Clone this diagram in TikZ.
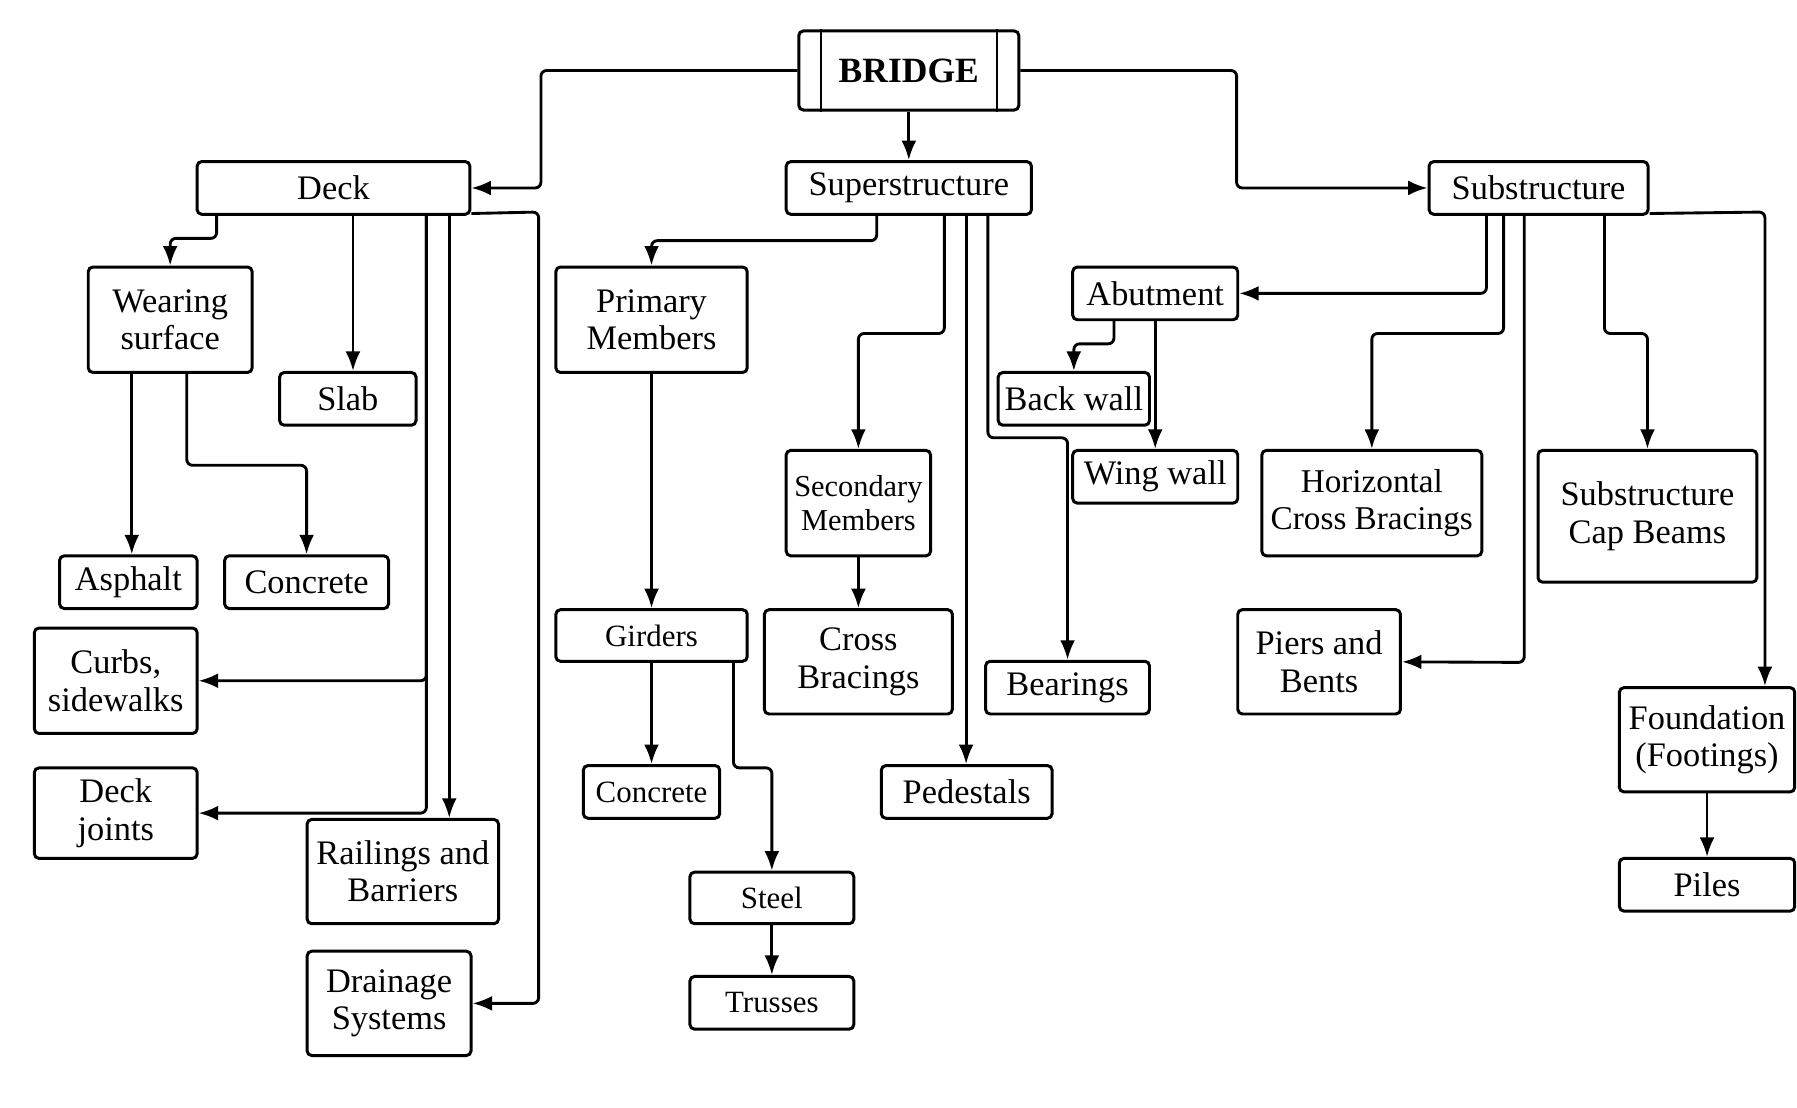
\documentclass[tikz,border=0pt]{standalone}
\usepackage{fontspec}
\setmainfont{Liberation Serif}
\usetikzlibrary{arrows.meta}
\begin{document}
\begin{tikzpicture}[x=1pt,y=-1pt,
  box/.style={draw, line width=2.6pt, rounded corners=4pt, inner sep=0pt, align=center,
    font=\fontsize{30}{32.5}\selectfont},
  arr/.style={line width=2.5pt, rounded corners=5pt, -{Latex[length=17pt,width=13pt]}},
  ln/.style={line width=2.5pt}]
\useasboundingbox (0,0) rectangle (1568,966);
% top
\node[box, minimum width=192pt, minimum height=69pt, font=\fontsize{31}{34}\selectfont\bfseries] (bridge) at (793,61.5) {BRIDGE};
\draw[line width=1.8pt] (716,0 |- bridge.north) -- (716,0 |- bridge.south);
\draw[line width=1.8pt] (870,0 |- bridge.north) -- (870,0 |- bridge.south);
\node[box, minimum width=238pt, minimum height=46pt] (deck) at (291,164) {Deck};
\node[box, minimum width=214pt, minimum height=46pt] (sup) at (793,164) {Superstructure};
\node[box, minimum width=191pt, minimum height=46pt] (sub) at (1342.5,164) {Substructure};
% deck children
\node[box, minimum width=143pt, minimum height=92pt] (ws) at (148.5,279) {Wearing\\surface};
\node[box, minimum width=119pt, minimum height=46pt] (slab) at (303.5,348) {Slab};
\node[box, minimum width=120pt, minimum height=46pt] (asph) at (112,508) {Asphalt};
\node[box, minimum width=143pt, minimum height=46pt] (conca) at (267.5,508) {Concrete};
\node[box, minimum width=142pt, minimum height=92pt] (curbs) at (101,594) {Curbs,\\sidewalks};
\node[box, minimum width=142pt, minimum height=79pt] (joints) at (101,709.5) {Deck\\joints};
\node[box, minimum width=167pt, minimum height=91pt] (rail) at (351.5,760.5) {Railings and\\Barriers};
\node[box, minimum width=143pt, minimum height=91pt] (drain) at (339.5,875.5) {Drainage\\Systems};
% superstructure children
\node[box, minimum width=167pt, minimum height=92pt] (prim) at (568.5,279) {Primary\\Members};
\node[box, minimum width=167pt, minimum height=45pt, font=\fontsize{27}{30}\selectfont] (gird) at (568.5,554.5) {Girders};
\node[box, minimum width=119pt, minimum height=46pt, font=\fontsize{27}{30}\selectfont] (concb) at (568.5,691) {Concrete};
\node[box, minimum width=143pt, minimum height=45pt, font=\fontsize{27}{30}\selectfont] (steel) at (673.5,783.5) {Steel};
\node[box, minimum width=143pt, minimum height=46pt, font=\fontsize{27}{30}\selectfont] (truss) at (673.5,875) {Trusses};
\node[box, minimum width=126pt, minimum height=92pt, font=\fontsize{26.5}{30}\selectfont] (sec) at (749,439) {Secondary\\Members};
\node[box, minimum width=164pt, minimum height=91pt] (cross) at (749,577.5) {Cross\\Bracings};
\node[box, minimum width=149pt, minimum height=46pt] (ped) at (843.5,691) {Pedestals};
\node[box, minimum width=143pt, minimum height=46pt] (bear) at (931.5,600) {Bearings};
% substructure children
\node[box, minimum width=144pt, minimum height=46pt] (abut) at (1008,256) {Abutment};
\node[box, minimum width=132pt, minimum height=46pt] (back) at (937,348) {Back wall};
\node[box, minimum width=144pt, minimum height=46pt] (wing) at (1008,416) {Wing wall};
\node[box, minimum width=192pt, minimum height=92pt, font=\fontsize{29}{32.5}\selectfont] (hcb) at (1197,439) {Horizontal\\Cross Bracings};
\node[box, minimum width=191pt, minimum height=115pt] (cap) at (1437.5,450.5) {Substructure\\Cap Beams};
\node[box, minimum width=142pt, minimum height=91pt] (piers) at (1151,577.5) {Piers and\\Bents};
\node[box, minimum width=153pt, minimum height=91pt] (found) at (1489.5,645.5) {Foundation\\(Footings)};
\node[box, minimum width=153pt, minimum height=46pt] (piles) at (1489.5,772) {Piles};
% top connectors
\draw[arr] (bridge.west) -- (472,61.5) -- (472,0 |- deck.east) -- (deck.east);
\draw[arr] (bridge.south) -- (sup.north);
\draw[arr] (bridge.east) -- (1079,61.5) -- (1079,0 |- sub.west) -- (sub.west);
% deck connectors
\draw[arr] (189,0 |- deck.south) -- (189,208) -- (148.5,208) -- (ws.north);
\draw[arr] (308,0 |- deck.south) -- (308,0 |- slab.north);
\draw[arr] (372,0 |- deck.south) -- (372,0 |- curbs.east) -- (curbs.east);
\draw[arr] (372,0 |- deck.south) -- (372,0 |- joints.east) -- (joints.east);
\draw[arr] (392,0 |- deck.south) -- (392,0 |- rail.north);
\draw[arr] ([yshift=2pt]deck.south east) -- (470,185) -- (470,0 |- drain.east) -- (drain.east);
\draw[arr] (115,0 |- ws.south) -- (115,0 |- asph.north);
\draw[arr] (163,0 |- ws.south) -- (163,406) -- (267.5,406) -- (conca.north);
% superstructure connectors
\draw[arr] (765,0 |- sup.south) -- (765,210) -- (568.5,210) -- (prim.north);
\draw[arr] (824,0 |- sup.south) -- (824,291) -- (749,291) -- (sec.north);
\draw[arr] (843,0 |- sup.south) -- (843,0 |- ped.north);
\draw[arr] (862,0 |- sup.south) -- (862,382) -- (931.5,382) -- (bear.north);
\draw[arr] (prim.south) -- (gird.north);
\draw[arr] (gird.south) -- (concb.north);
\draw[arr] (640,0 |- gird.south) -- (640,670) -- (673.5,670) -- (steel.north);
\draw[arr] (steel.south) -- (truss.north);
\draw[arr] (sec.south) -- (cross.north);
% substructure connectors
\draw[arr] (1297,0 |- sub.south) -- (1297,0 |- abut.east) -- (abut.east);
\draw[arr] (1312,0 |- sub.south) -- (1312,291) -- (1197,291) -- (hcb.north);
\draw[arr] (1330,0 |- sub.south) -- (1330,578) -- (piers.east);
\draw[arr] (1400,0 |- sub.south) -- (1400,291) -- (1437.5,291) -- (cap.north);
\draw[arr] ([yshift=2pt]sub.south east) -- (1540,185) -- (1540,0 |- found.north);
\draw[arr] (972,0 |- abut.south) -- (972,300) -- (937,300) -- (back.north);
\draw[arr] (1008,0 |- abut.south) -- (wing.north);
\draw[arr] (found.south) -- (piles.north);
\end{tikzpicture}
\end{document}
